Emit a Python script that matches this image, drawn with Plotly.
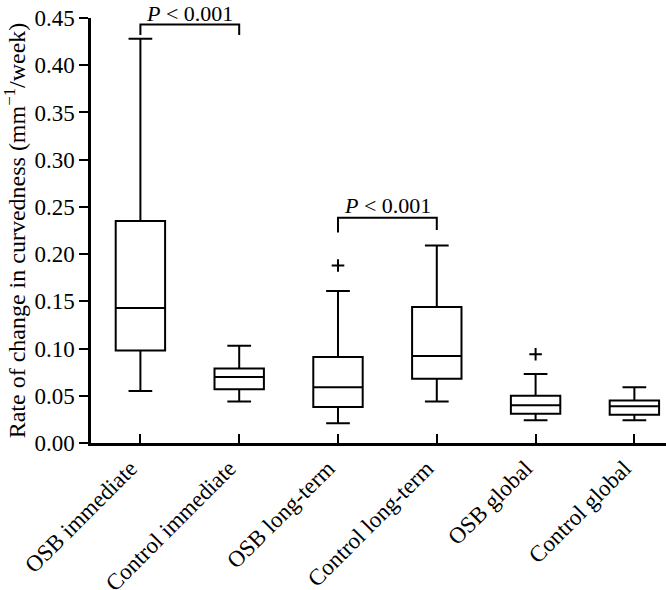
import plotly.graph_objects as go

categories = ["OSB immediate", "Control immediate", "OSB long-term",
              "Control long-term", "OSB global", "Control global"]
lower_whisker = [0.055, 0.044, 0.021, 0.044, 0.024, 0.024]
q1_values = [0.098, 0.057, 0.038, 0.068, 0.031, 0.030]
median_values = [0.143, 0.070, 0.059, 0.092, 0.040, 0.039]
q3_values = [0.235, 0.079, 0.091, 0.144, 0.050, 0.045]
upper_whisker = [0.428, 0.103, 0.161, 0.209, 0.073, 0.059]

outlier_categories = ["OSB long-term", "OSB global"]
outlier_values = [0.188, 0.094]

bracket1_x = ["OSB immediate", "OSB immediate", "Control immediate", "Control immediate"]
bracket1_y = [0.432, 0.443, 0.443, 0.432]
bracket2_x = ["OSB long-term", "OSB long-term", "Control long-term", "Control long-term"]
bracket2_y = [0.223, 0.2385, 0.2385, 0.2255]
p_label = "<i>P</i> < 0.001"
y_ticks = [0.00, 0.05, 0.10, 0.15, 0.20, 0.25, 0.30, 0.35, 0.40, 0.45]

FONT = "Liberation Serif, Times New Roman, serif"

fig = go.Figure()
fig.add_trace(go.Box(
    x=categories, q1=q1_values, median=median_values, q3=q3_values,
    lowerfence=lower_whisker, upperfence=upper_whisker,
    fillcolor="rgba(0,0,0,0)", line=dict(color="black", width=2),
    width=0.5, whiskerwidth=0.48, boxpoints=False, showlegend=False,
))
fig.add_trace(go.Scatter(
    x=outlier_categories, y=outlier_values, mode="markers",
    marker=dict(symbol="cross-thin", size=9, line=dict(color="black", width=2)),
    showlegend=False,
))
for bx, by in [(bracket1_x, bracket1_y), (bracket2_x, bracket2_y)]:
    fig.add_trace(go.Scatter(x=bx, y=by, mode="lines",
                             line=dict(color="black", width=2), showlegend=False))

fig.add_annotation(x=0.5, y=bracket1_y[1], text=p_label, showarrow=False,
                   yanchor="bottom", yshift=-3, font=dict(size=22, color="black", family=FONT))
fig.add_annotation(x=2.5, y=bracket2_y[1], text=p_label, showarrow=False,
                   yanchor="bottom", yshift=-2, font=dict(size=22, color="black", family=FONT))

fig.update_layout(
    width=666, height=590,
    margin=dict(l=91, r=0, t=18, b=147),
    plot_bgcolor="white", paper_bgcolor="white",
    font=dict(family=FONT, size=23, color="black"),
)
fig.update_xaxes(
    type="category", categoryorder="array", categoryarray=categories,
    range=[-0.5, 5.32], showline=True, linecolor="black", linewidth=2.5,
    ticks="inside", ticklen=9, tickwidth=2, tickcolor="black",
    tickangle=-45, showgrid=False, zeroline=False, automargin=False,
    ticklabelshift=-10, ticklabeloverflow="allow",
    tickfont=dict(size=23, family=FONT),
)
fig.update_yaxes(
    range=[0, 0.45], tickvals=y_ticks, ticktext=[f"{v:.2f}" for v in y_ticks],
    showline=True, linecolor="black", linewidth=2.5,
    ticks="outside", ticklen=9, tickwidth=2, tickcolor="black",
    showgrid=False, zeroline=False, automargin=False, ticklabeloverflow="allow",
    tickfont=dict(size=23, family=FONT),
    title=dict(text="Rate of change in curvedness (mm<sup>−1</sup>/week)",
               font=dict(size=24, family=FONT), standoff=4),
)
fig.write_html("out.html", config={"displayModeBar": False},
               post_script="document.body.style.margin='0';document.body.style.overflow='hidden';")
